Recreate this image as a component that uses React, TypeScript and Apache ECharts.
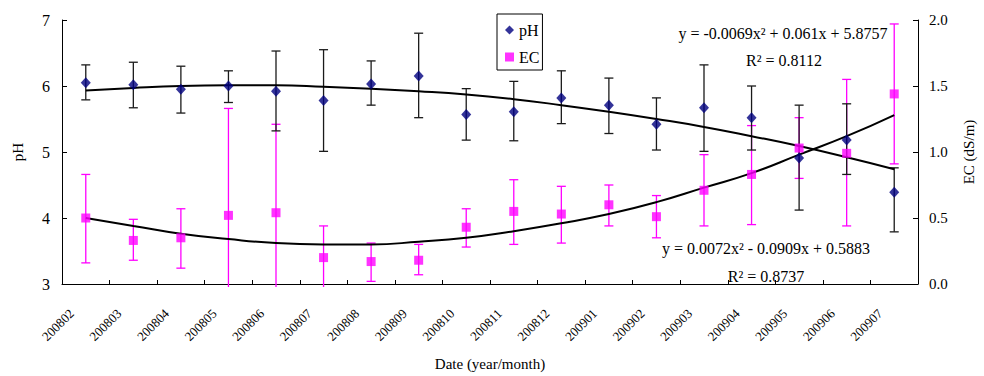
import React, { useEffect, useRef } from "react";
import * as echarts from "echarts";

const months = [
  "200802", "200803", "200804", "200805", "200806", "200807", "200808", "200809", "200810",
  "200811", "200812", "200901", "200902", "200903", "200904", "200905", "200906", "200907",
];

const phMean = [6.05, 6.02, 5.95, 6.0, 5.92, 5.78, 6.03, 6.15, 5.57, 5.61, 5.82, 5.71, 5.42, 5.67, 5.52, 4.91, 5.18, 4.39];
const phLow = [5.79, 5.67, 5.59, 5.75, 5.32, 5.01, 5.71, 5.52, 5.18, 5.17, 5.43, 5.28, 5.03, 5.01, 5.03, 4.12, 4.66, 3.79];
const phHigh = [6.32, 6.36, 6.3, 6.23, 6.53, 6.55, 6.38, 6.8, 5.96, 6.07, 6.23, 6.12, 5.82, 6.32, 6.0, 5.71, 5.73, 4.76];
const phTrend = [5.93, 5.97, 6.0, 6.01, 6.01, 5.99, 5.96, 5.92, 5.87, 5.8, 5.71, 5.61, 5.5, 5.38, 5.24, 5.09, 4.92, 4.74];

const ecMean = [0.5, 0.33, 0.35, 0.52, 0.54, 0.2, 0.17, 0.18, 0.43, 0.55, 0.53, 0.6, 0.51, 0.71, 0.83, 1.03, 0.99, 1.44];
const ecLow = [0.16, 0.18, 0.12, -0.3, -0.14, -0.04, 0.02, 0.07, 0.28, 0.3, 0.31, 0.44, 0.35, 0.44, 0.45, 0.8, 0.44, 0.91];
const ecHigh = [0.83, 0.49, 0.57, 1.33, 1.21, 0.44, 0.31, 0.3, 0.57, 0.79, 0.74, 0.75, 0.67, 0.98, 1.2, 1.26, 1.55, 1.97];
const ecTrend = [0.5, 0.44, 0.38, 0.34, 0.31, 0.3, 0.3, 0.32, 0.35, 0.4, 0.46, 0.53, 0.62, 0.73, 0.84, 0.98, 1.12, 1.28];

const phEquation = "y = -0.0069x² + 0.061x + 5.8757";
const phR2 = "R² = 0.8112";
const ecEquation = "y = 0.0072x² - 0.0909x + 0.5883";
const ecR2 = "R² = 0.8737";

const FONT = "Liberation Serif";

function makeErrorRender(color: string) {
  return (params: any, api: any) => {
    const i = api.value(0);
    const lo = api.value(1);
    const hi = api.value(2);
    const cs = params.coordSys;
    const bottom = cs.y + cs.height;
    const top = cs.y;
    const pHi = api.coord([i, hi]);
    const pLo = api.coord([i, lo]);
    const x = pHi[0];
    let y1 = pHi[1];
    let y2 = pLo[1];
    const half = 4.5;
    const style = { stroke: color, lineWidth: 1.3 };
    const children: any[] = [];
    let capTop = true;
    let capBottom = true;
    if (y1 < top) { y1 = top - 3; capTop = false; }
    if (y2 > bottom) { y2 = bottom + 3; capBottom = false; }
    children.push({ type: "line", shape: { x1: x, y1, x2: x, y2 }, style });
    if (capTop) children.push({ type: "line", shape: { x1: x - half, y1, x2: x + half, y2: y1 }, style });
    if (capBottom) children.push({ type: "line", shape: { x1: x - half, y1: y2, x2: x + half, y2 }, style });
    return { type: "group", children };
  };
}

function eqText(x: number, y: number, text: string) {
  return {
    type: "text",
    x,
    y,
    z: 10,
    style: {
      text,
      fontFamily: FONT,
      fontSize: 16,
      fill: "#000",
      align: "center",
      verticalAlign: "middle",
    },
  };
}

export default function App() {
  const ref = useRef<HTMLDivElement>(null);
  useEffect(() => {
    if (!ref.current) return;
    const chart = echarts.init(ref.current, null, { renderer: "svg" });
    const axisLine = { show: true, lineStyle: { color: "#000", width: 1 } };
    chart.setOption({
      animation: false,
      backgroundColor: "#fff",
      textStyle: { fontFamily: FONT },
      grid: { left: 62, right: 65, top: 20, bottom: 88 },
      legend: {
        orient: "vertical",
        left: 497,
        top: 14,
        data: ["pH", "EC"],
        borderColor: "#000",
        borderWidth: 1,
        padding: [8, 3, 5, 8],
        itemGap: 11,
        itemWidth: 9,
        itemHeight: 9,
        textStyle: { fontFamily: FONT, fontSize: 16, color: "#000" },
      },
      xAxis: {
        type: "category",
        data: months,
        name: "Date (year/month)",
        nameLocation: "middle",
        nameGap: 72,
        nameTextStyle: { fontFamily: FONT, fontSize: 15, color: "#000" },
        axisLine,
        axisTick: { show: true, inside: true, length: 4, lineStyle: { color: "#000" } },
        axisLabel: {
          rotate: 45,
          interval: 0,
          margin: 13,
          padding: [0, 20, 0, 0],
          fontFamily: FONT,
          fontSize: 13,
          color: "#000",
        },
        splitLine: { show: false },
      },
      yAxis: [
        {
          type: "value",
          min: 3,
          max: 7,
          interval: 1,
          name: "pH",
          nameLocation: "middle",
          nameGap: 37,
          nameRotate: 90,
          nameTextStyle: { fontFamily: FONT, fontSize: 15, color: "#000" },
          axisLine,
          axisTick: { show: true, inside: true, length: 5, lineStyle: { color: "#000" } },
          axisLabel: { margin: 12, fontFamily: FONT, fontSize: 16, color: "#000" },
          splitLine: { show: false },
        },
        {
          type: "value",
          min: 0,
          max: 2,
          interval: 0.5,
          position: "right",
          name: "EC (dS/m)",
          nameLocation: "middle",
          nameGap: 43,
          nameRotate: 90,
          nameTextStyle: { fontFamily: FONT, fontSize: 15, color: "#000" },
          axisLine,
          axisTick: { show: true, inside: true, length: 5, lineStyle: { color: "#000" } },
          axisLabel: {
            margin: 11,
            fontFamily: FONT,
            fontSize: 15,
            color: "#000",
            formatter: (v: number) => v.toFixed(1),
          },
          splitLine: { show: false },
        },
      ],
      series: [
        {
          name: "EC err",
          type: "custom",
          yAxisIndex: 1,
          renderItem: makeErrorRender("#FF00FF"),
          data: months.map((_, i) => [i, ecLow[i], ecHigh[i]]),
          encode: { x: 0, y: [1, 2] },
          z: 2,
          silent: true,
        },
        {
          name: "pH err",
          type: "custom",
          yAxisIndex: 0,
          renderItem: makeErrorRender("#1a1a1a"),
          data: months.map((_, i) => [i, phLow[i], phHigh[i]]),
          encode: { x: 0, y: [1, 2] },
          z: 2,
          silent: true,
        },
        {
          name: "pH trend",
          type: "line",
          yAxisIndex: 0,
          data: phTrend,
          smooth: true,
          symbol: "none",
          lineStyle: { color: "#000", width: 2 },
          z: 3,
        },
        {
          name: "EC trend",
          type: "line",
          yAxisIndex: 1,
          data: ecTrend,
          smooth: true,
          symbol: "none",
          lineStyle: { color: "#000", width: 2 },
          z: 3,
        },
        {
          name: "EC",
          type: "scatter",
          yAxisIndex: 1,
          data: ecMean,
          symbol: "rect",
          symbolSize: 9,
          itemStyle: { color: "#FF00FF" },
          z: 4,
        },
        {
          name: "pH",
          type: "scatter",
          yAxisIndex: 0,
          data: phMean,
          symbol: "diamond",
          symbolSize: [10, 11],
          itemStyle: { color: "#000080" },
          z: 5,
        },
      ],
      graphic: [
        eqText(783, 33, phEquation),
        eqText(784, 60, phR2),
        eqText(766, 248, ecEquation),
        eqText(766, 276, ecR2),
      ],
    });
    return () => chart.dispose();
  }, []);
  return (
    <div
      ref={ref}
      style={{ position: "fixed", left: 0, top: 0, width: 984, height: 376, background: "#fff" }}
    />
  );
}
